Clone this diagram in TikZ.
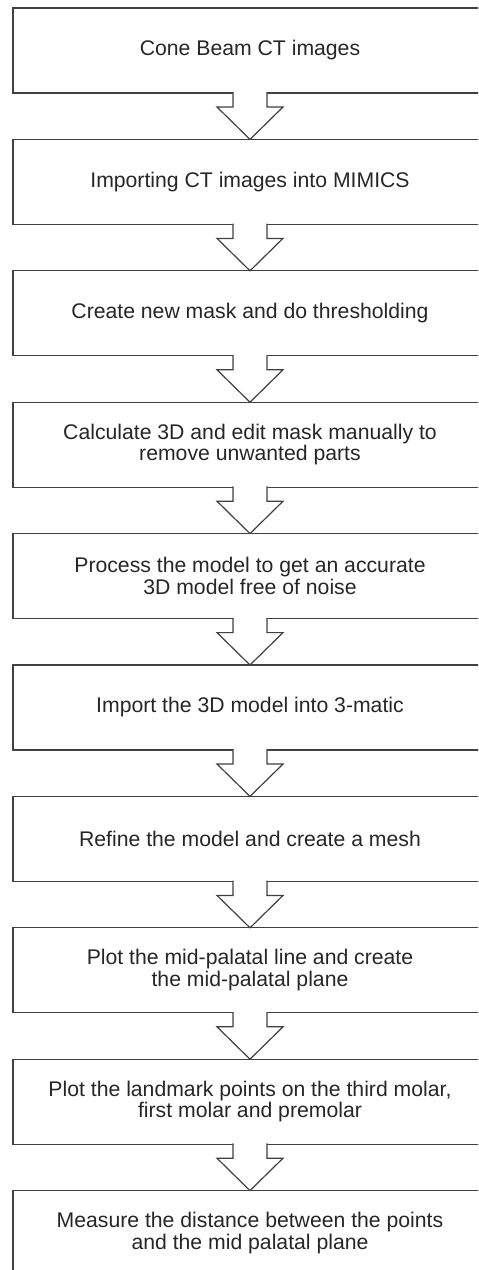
\documentclass[tikz,border=0pt]{standalone}
\usepackage{fontspec}
\setmainfont{Liberation Sans}
\usetikzlibrary{positioning,calc}

\tikzset{
  stepbox/.style={draw=black!75, line width=0.6pt, rectangle, minimum width=237pt,
    minimum height=42.5pt, outer sep=0pt, align=center, text=black!85,
    font=\fontsize{10.6}{10.8}\selectfont},
  flowline/.style={draw=black!75, line width=0.6pt, line join=miter, fill=white}
}

\begin{document}
\begin{tikzpicture}[x=0.5pt,y=-0.5pt,node distance=23.2pt]
     \newcommand\steparrow[2]{%{from}{to}
     \draw[flowline] ($(#1.south)+(-8.5pt,0.4pt)$) -- ++(0,-7.4pt) -- ++(-8pt,0) -- (#2.north)
        -- ($(#1.south)+(16.5pt,-7pt)$) -- ++(-8pt,0) -- ++(0,7.4pt);
     }

     \clip (0,0) rectangle (478,1270);

     \node[stepbox] (cbct) at (250,50.5) {Cone Beam CT images};
     \node[stepbox,below=of cbct] (import) {Importing CT images into MIMICS};
     \node[stepbox,below=of import] (mask) {Create new mask and do thresholding};
     \node[stepbox,below=of mask] (edit) {Calculate 3D and edit mask manually to\\remove unwanted parts};
     \node[stepbox,below=of edit] (process) {Process the model to get an accurate\\3D model free of noise};
     \node[stepbox,below=of process] (matic) {Import the 3D model into 3-matic};
     \node[stepbox,below=of matic] (mesh) {Refine the model and create a mesh};
     \node[stepbox,below=of mesh] (plane) {Plot the mid-palatal line and create\\the mid-palatal plane};
     \node[stepbox,below=of plane] (landmark) {Plot the landmark points on the third molar,\\first molar and premolar};
     \node[stepbox,below=of landmark] (measure) {Measure the distance between the points\\and the mid palatal plane};

     \steparrow{cbct}{import}
     \steparrow{import}{mask}
     \steparrow{mask}{edit}
     \steparrow{edit}{process}
     \steparrow{process}{matic}
     \steparrow{matic}{mesh}
     \steparrow{mesh}{plane}
     \steparrow{plane}{landmark}
     \steparrow{landmark}{measure}
\end{tikzpicture}
\end{document}
